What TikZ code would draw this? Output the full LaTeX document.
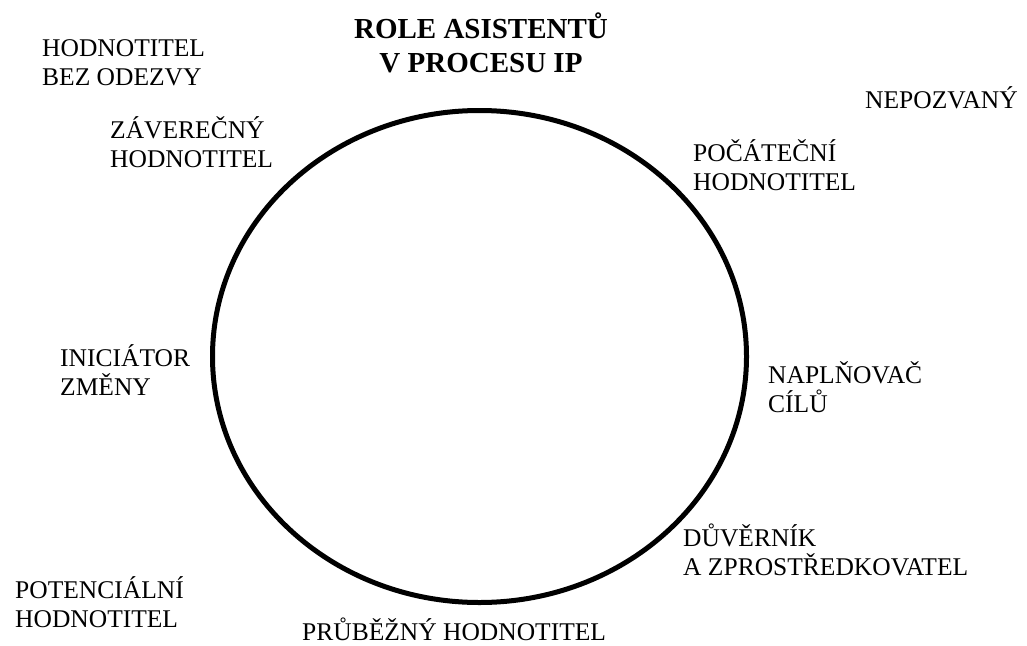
\documentclass[tikz,border=0pt]{standalone}
\usepackage{fontspec}
\setmainfont{Liberation Serif}
\usetikzlibrary{positioning}
\usetikzlibrary{shapes}

\tikzset{
	role/.style={anchor=base west, align=left, inner sep=0pt, font=\fontsize{25.5}{28.3}\selectfont},
	nadpis/.style={anchor=base, align=center, inner sep=0pt, font=\bfseries\fontsize{29}{34}\selectfont}
}

\begin{document}
\begin{tikzpicture}[x=1pt, y=-1pt]
		\useasboundingbox (0,0) rectangle (1027,645);
		\node [draw, ellipse, line width=5pt, minimum width=534pt, minimum height=492pt, inner sep=0pt] (proces) at (479.5,356.5) {};
		\node [nadpis] (title) at (481,72) {ROLE ASISTENTŮ\\V PROCESU IP};
		% role kolem kruhu (base = posledni radek)
		\node [role] (bezOdezvy) at (42,85) {HODNOTITEL\\BEZ ODEZVY};
		\node [role] (zaverecny) at (110,167) {ZÁVEREČNÝ\\HODNOTITEL};
		\node [role] (nepozvany) at (865,108) {NEPOZVANÝ};
		\node [role] (pocatecni) at (693,190) {POČÁTEČNÍ\\HODNOTITEL};
		\node [role] (naplnovac) at (768,412) {NAPLŇOVAČ\\CÍLŮ};
		\node [role] (duvernik) at (683,575) {DŮVĚRNÍK\\A ZPROSTŘEDKOVATEL};
		\node [role] (prubezny) at (302,640) {PRŮBĚŽNÝ HODNOTITEL};
		\node [role] (potencialni) at (15,627) {POTENCIÁLNÍ\\HODNOTITEL};
		\node [role] (iniciator) at (60,395) {INICIÁTOR\\ZMĚNY};
	\end{tikzpicture}
\end{document}
